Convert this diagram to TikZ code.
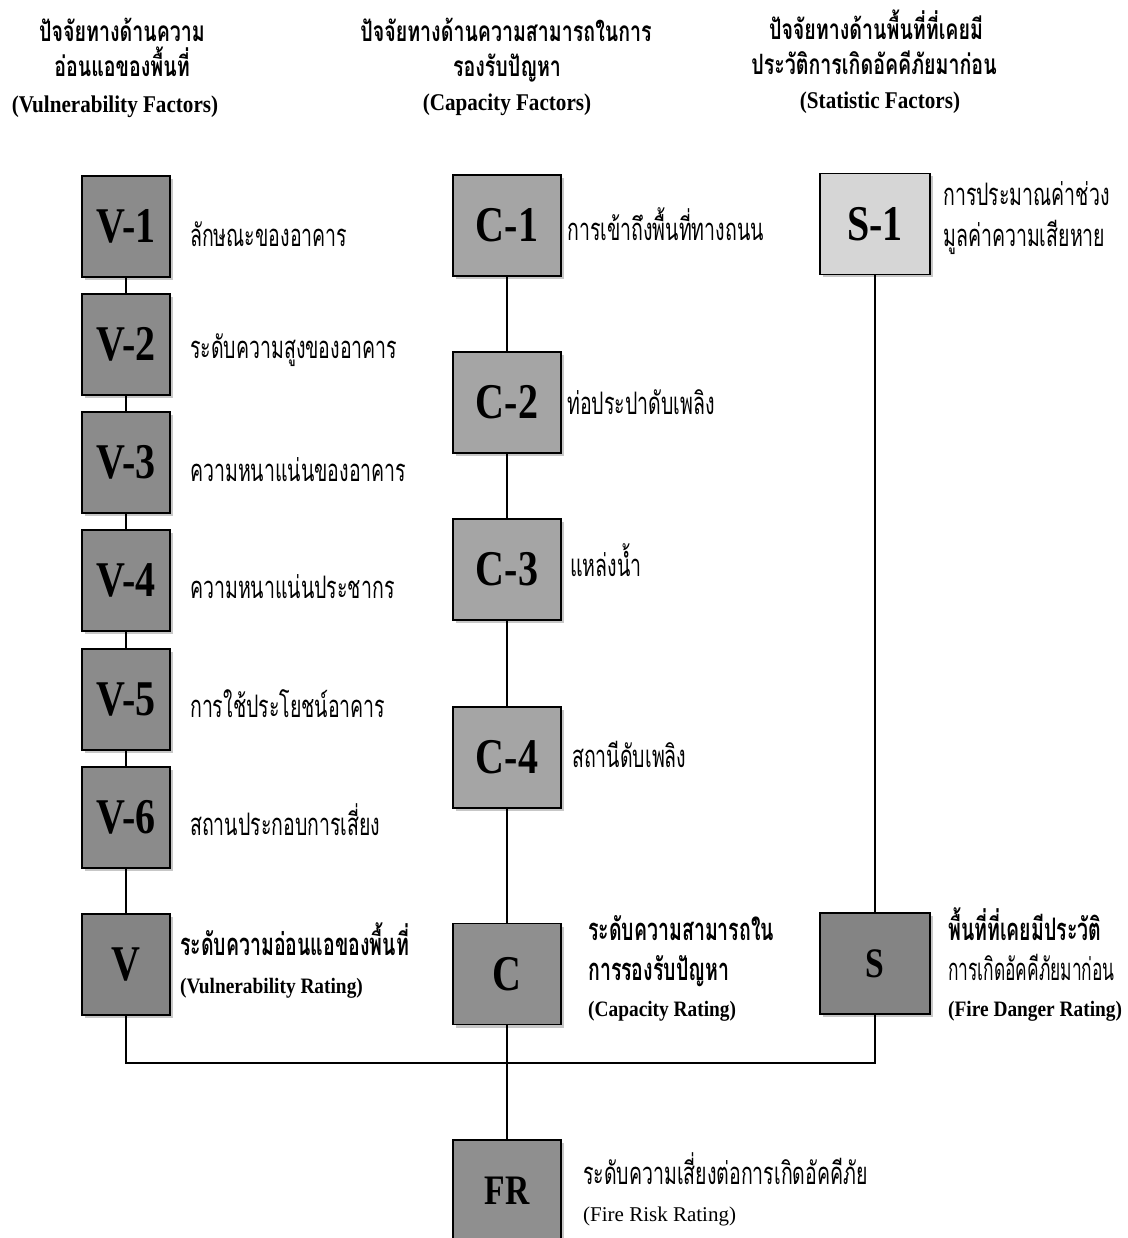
\documentclass[tikz,border=0pt]{standalone}
\usepackage{fontspec}
\usetikzlibrary{shadows}
\newfontfamily\thai[Script=Thai,FakeStretch=0.63]{Loma}
\newfontfamily\thaihd[Script=Thai,FakeStretch=0.7]{Loma}
\newfontfamily\thainar[Script=Thai,FakeStretch=0.56]{Loma}
\newfontfamily\tmsc[FakeStretch=0.8]{Liberation Serif}
\newfontfamily\tmsh[FakeStretch=0.88]{Liberation Serif}
\newfontfamily\tmsr{Liberation Serif}
\definecolor{vgray}{RGB}{139,139,139}
\definecolor{cgray}{RGB}{165,165,165}
\definecolor{sgray}{RGB}{214,214,214}
\definecolor{rgray}{RGB}{132,132,132}
\definecolor{crgray}{RGB}{143,143,143}
\begin{document}
\begin{tikzpicture}[x=1pt,y=-1pt,
  box/.style={draw=black, line width=1.8pt, inner sep=0pt, minimum height=101pt,
    font=\tmsc\bfseries\fontsize{50}{50}\selectfont,
    drop shadow={shadow xshift=3pt,shadow yshift=-3pt,fill=black!22,opacity=1}},
  vbox/.style={box, fill=vgray, minimum width=88pt},
  cbox/.style={box, fill=cgray, minimum width=108pt},
  sbox/.style={box, fill=sgray, minimum width=110pt},
  small/.style={font=\tmsc\bfseries\fontsize{42}{42}\selectfont},
  desc/.style={anchor=base west, inner sep=0pt, font=\thai\fontsize{31}{31}\selectfont},
  bdesc/.style={anchor=base west, inner sep=0pt, font=\thai\bfseries\fontsize{31}{31}\selectfont},
  eng/.style={anchor=base west, inner sep=0pt, font=\tmsh\bfseries\fontsize{22}{22}\selectfont},
  hdr/.style={anchor=base, inner sep=0pt, font=\thaihd\bfseries\fontsize{28}{28}\selectfont},
  hdre/.style={anchor=base, inner sep=0pt, font=\tmsh\bfseries\fontsize{24}{24}\selectfont},
  link/.style={draw=black, line width=1.2pt}]
\useasboundingbox (0,0) rectangle (1127,1238);
% headers
\node[hdr] (h1a) at (122,42) {ปัจจัยทางด้านความ};
\node[hdr] (h1b) at (122,77) {อ่อนแอของพื้นที่};
\node[hdre] (h1c) at (115,113) {(Vulnerability Factors)};
\node[hdr] (h2a) at (506,42) {ปัจจัยทางด้านความสามารถในการ};
\node[hdr] (h2b) at (507,77) {รองรับปัญหา};
\node[hdre] (h2c) at (507,111) {(Capacity Factors)};
\node[hdr] (h3a) at (876,40) {ปัจจัยทางด้านพื้นที่ที่เคยมี};
\node[hdr] (h3b) at (874,75) {ประวัติการเกิดอัคคีภัยมาก่อน};
\node[hdre] (h3c) at (880,109) {(Statistic Factors)};
% V column
\node[vbox] (v1) at (126,226.5) {V-1};
\node[vbox] (v2) at (126,344.5) {V-2};
\node[vbox] (v3) at (126,462.5) {V-3};
\node[vbox] (v4) at (126,580.5) {V-4};
\node[vbox] (v5) at (126,699.5) {V-5};
\node[vbox] (v6) at (126,817.5) {V-6};
\node[vbox, fill=rgray] (vr) at (126,964.5) {V};
% C column
\node[cbox] (c1) at (507,225.5) {C-1};
\node[cbox] (c2) at (507,402.5) {C-2};
\node[cbox] (c3) at (507,569.5) {C-3};
\node[cbox] (c4) at (507,757.5) {C-4};
\node[cbox, fill=crgray] (cr) at (507,974) {C};
\node[cbox, fill=crgray, small] (fr) at (507,1190.5) {FR};
% S column
\node[sbox] (s1) at (875,224) {S-1};
\node[sbox, fill=rgray, small] (sr) at (875,963.5) {S};
% descriptions
\node[desc] (tv1) at (190,247) {ลักษณะของอาคาร};
\node[desc] (tv2) at (190,358) {ระดับความสูงของอาคาร};
\node[desc] (tv3) at (190,481) {ความหนาแน่นของอาคาร};
\node[desc] (tv4) at (190,598) {ความหนาแน่นประชากร};
\node[desc] (tv5) at (190,717) {การใช้ประโยชน์อาคาร};
\node[desc] (tv6) at (190,835) {สถานประกอบการเสี่ยง};
\node[bdesc] (tvr) at (180,955) {ระดับความอ่อนแอของพื้นที่};
\node[eng] (tvre) at (180,993) {(Vulnerability Rating)};
\node[desc] (tc1) at (567,241) {การเข้าถึงพื้นที่ทางถนน};
\node[desc] (tc2) at (567,414) {ท่อประปาดับเพลิง};
\node[desc] (tc3) at (570,576) {แหล่งน้ำ};
\node[desc] (tc4) at (572,767) {สถานีดับเพลิง};
\node[bdesc] (tcr1) at (588,940) {ระดับความสามารถใน};
\node[bdesc] (tcr2) at (588,980) {การรองรับปัญหา};
\node[eng] (tcre) at (588,1016) {(Capacity Rating)};
\node[desc] (ts1a) at (943,206) {การประมาณค่าช่วง};
\node[desc] (ts1b) at (943,247) {มูลค่าความเสียหาย};
\node[bdesc] (tsr1) at (948,940) {พื้นที่ที่เคยมีประวัติ};
\node[desc, font=\thainar\fontsize{31}{31}\selectfont] (tsr2) at (948,980) {การเกิดอัคคีภัยมาก่อน};
\node[eng] (tsre) at (948,1016) {(Fire Danger Rating)};
\node[desc] (tfr) at (583,1184) {ระดับความเสี่ยงต่อการเกิดอัคคีภัย};
\node[anchor=base west, inner sep=0pt, font=\tmsr\fontsize{21}{21}\selectfont] (tfre) at (583,1221) {(Fire Risk Rating)};
% connectors
\draw[link] (v1.south) -- (v2.north);
\draw[link] (v2.south) -- (v3.north);
\draw[link] (v3.south) -- (v4.north);
\draw[link] (v4.south) -- (v5.north);
\draw[link] (v5.south) -- (v6.north);
\draw[link] (v6.south) -- (vr.north);
\draw[link] (c1.south) -- (c2.north);
\draw[link] (c2.south) -- (c3.north);
\draw[link] (c3.south) -- (c4.north);
\draw[link] (c4.south) -- (cr.north);
\draw[link] (cr.south) -- (fr.north);
\draw[link] (s1.south) -- (sr.north);
\coordinate (j) at (507,1063);
\draw[link] (vr.south) |- (j) -| (sr.south);
\end{tikzpicture}
\end{document}
